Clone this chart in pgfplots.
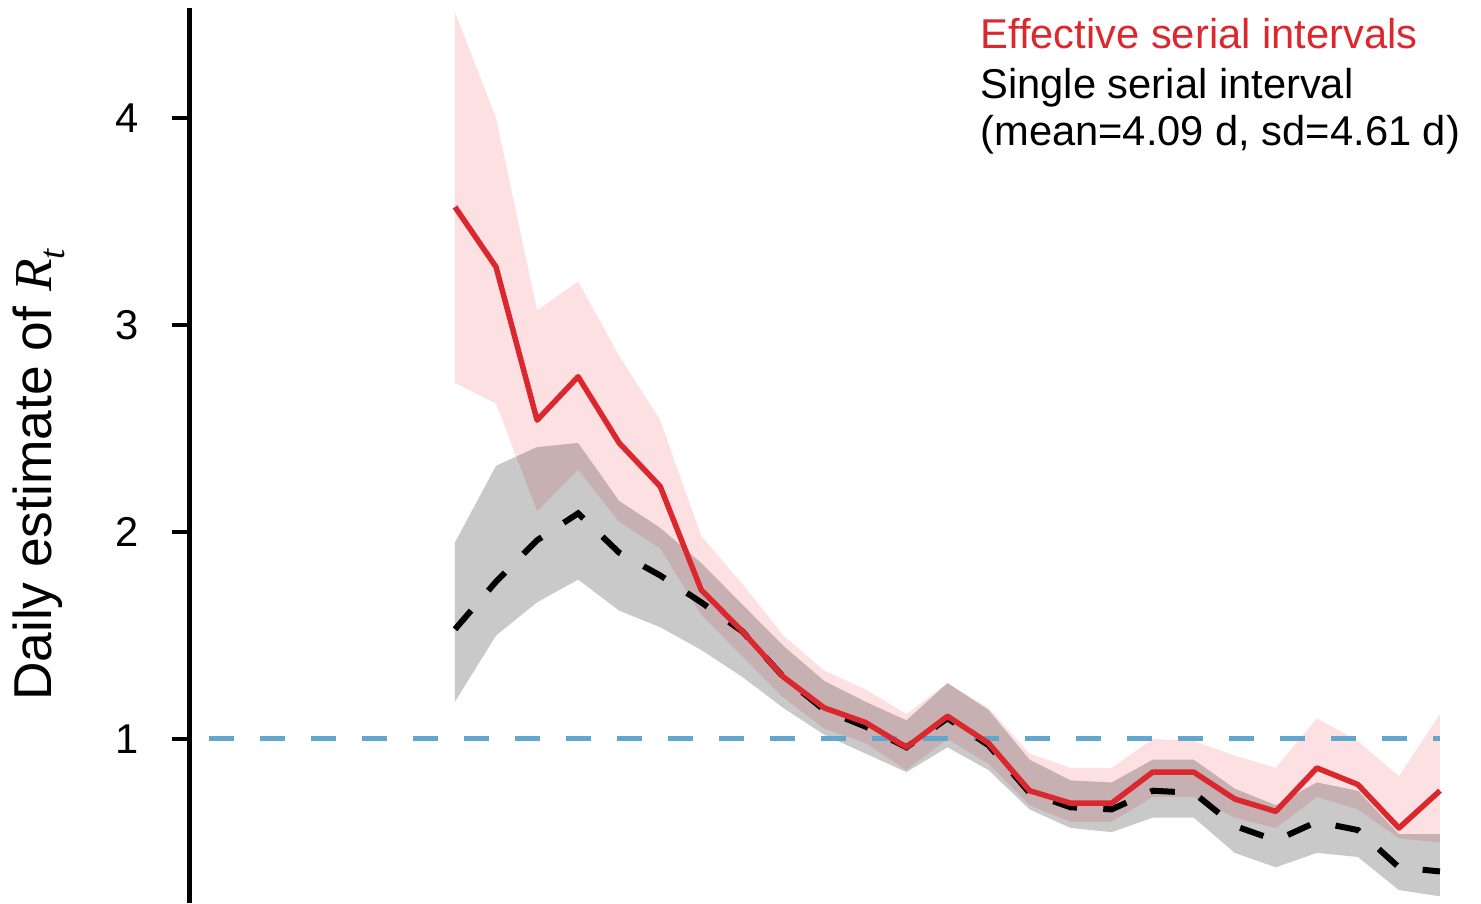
\documentclass[border=0pt]{standalone}
\usepackage{fontspec}
\setmainfont{Liberation Sans}
\newfontfamily\serifit[ItalicFont={Liberation Serif Italic}]{Liberation Serif}
\usepackage{pgfplots}
\pgfplotsset{compat=1.18}
\usepackage{pgfplotstable}
\usepgfplotslibrary{fillbetween}

\definecolor{effred}{RGB}{218,40,46}
\definecolor{effpink}{RGB}{252,224,226}
\definecolor{refblue}{RGB}{98,166,206}

% day index, upper and lower bound, mean -- effective serial intervals
\pgfplotstableread{
x  up    lo    mean
0  4.51  2.72  3.57
1  4.00  2.62  3.28
2  3.07  2.10  2.54
3  3.21  2.30  2.75
4  2.85  2.05  2.43
5  2.54  1.92  2.22
6  1.98  1.60  1.72
7  1.75  1.40  1.52
8  1.50  1.20  1.30
9  1.33  1.05  1.15
10 1.24  0.98  1.08
11 1.12  0.85  0.96
12 1.27  1.00  1.11
13 1.15  0.88  0.98
14 0.93  0.68  0.75
15 0.86  0.60  0.69
16 0.86  0.60  0.69
17 1.00  0.72  0.84
18 0.99  0.72  0.84
19 0.92  0.62  0.71
20 0.86  0.57  0.65
21 1.10  0.72  0.86
22 0.99  0.66  0.78
23 0.82  0.52  0.57
24 1.12  0.50  0.75
}\effective

% day index, upper and lower bound, mean -- single serial interval
\pgfplotstableread{
x  up    lo    mean
0  1.95  1.18  1.53
1  2.32  1.50  1.76
2  2.41  1.66  1.96
3  2.43  1.77  2.09
4  2.15  1.62  1.90
5  2.02  1.54  1.79
6  1.85  1.43  1.66
7  1.65  1.30  1.52
8  1.45  1.15  1.30
9  1.28  1.02  1.14
10 1.18  0.93  1.06
11 1.09  0.84  0.96
12 1.27  0.96  1.10
13 1.14  0.85  0.97
14 0.90  0.66  0.74
15 0.80  0.57  0.67
16 0.79  0.55  0.66
17 0.90  0.62  0.75
18 0.90  0.62  0.74
19 0.76  0.45  0.58
20 0.68  0.38  0.51
21 0.79  0.45  0.60
22 0.75  0.43  0.56
23 0.54  0.27  0.38
24 0.54  0.24  0.36
}\single

\begin{document}
\begin{tikzpicture}
\begin{axis}[
  scale only axis,
  width=387.3pt, height=268.5pt,
  xmin=-6.457, xmax=25.0,
  ymin=0.2077, ymax=4.531,
  axis x line=none,
  axis y line*=left,
  axis line style={line width=1.5pt, black},
  ytick={1,2,3,4},
  tick align=outside,
  major tick length=5.4pt,
  every tick/.style={black, line width=1.1pt},
  /pgf/number format/assume math mode=true,
  yticklabel style={font=\fontsize{12.5}{14}\selectfont, xshift=-6.5pt},
  clip=false,
]
  % credible interval bands
  \addplot[name path=eu, draw=none, forget plot] table[x=x, y=up] {\effective};
  \addplot[name path=el, draw=none, forget plot] table[x=x, y=lo] {\effective};
  \addplot[fill=effpink, draw=none] fill between[of=eu and el];
  \addplot[name path=su, draw=none, forget plot] table[x=x, y=up] {\single};
  \addplot[name path=sl, draw=none, forget plot] table[x=x, y=lo] {\single};
  \addplot[fill=black, fill opacity=0.21, draw=none] fill between[of=su and sl];

  % reference level R = 1
  \addplot[refblue, line width=1.5pt, dash pattern=on 7.5pt off 7.8pt]
    coordinates {(-5.99,1) (24,1)};

  % point estimates
  \addplot[black, line width=1.8pt, dash pattern=on 7.4pt off 7.9pt]
    table[x=x, y=mean] {\single};
  \addplot[effred, line width=1.65pt, line join=round]
    table[x=x, y=mean] {\effective};

  % legend text
  \node[anchor=base west, text=effred, font=\fontsize{12.5}{14}\selectfont, inner sep=0pt]
    at (axis cs:12.79,4.333) {Effective serial intervals};
  \node[anchor=base west, font=\fontsize{12.5}{14}\selectfont, inner sep=0pt]
    at (axis cs:12.79,4.092) {Single serial interval};
  \node[anchor=base west, font=\fontsize{12.5}{14}\selectfont, inner sep=0pt]
    at (axis cs:12.79,3.865) {(mean=4.09 d, sd=4.61 d)};

  % axis title
  \node[rotate=90, anchor=base, font=\fontsize{16}{18}\selectfont, inner sep=0pt]
    at (axis cs:-9.82,2.275)
    {Daily estimate of {\serifit\itshape R}\raisebox{-0.45ex}{\fontsize{11}{12}\selectfont\serifit\itshape t}};
\end{axis}
\pgfresetboundingbox
\path ([xshift=-57pt]current axis.south west) rectangle ([yshift=2.4pt]current axis.north east);
\end{tikzpicture}
\end{document}
